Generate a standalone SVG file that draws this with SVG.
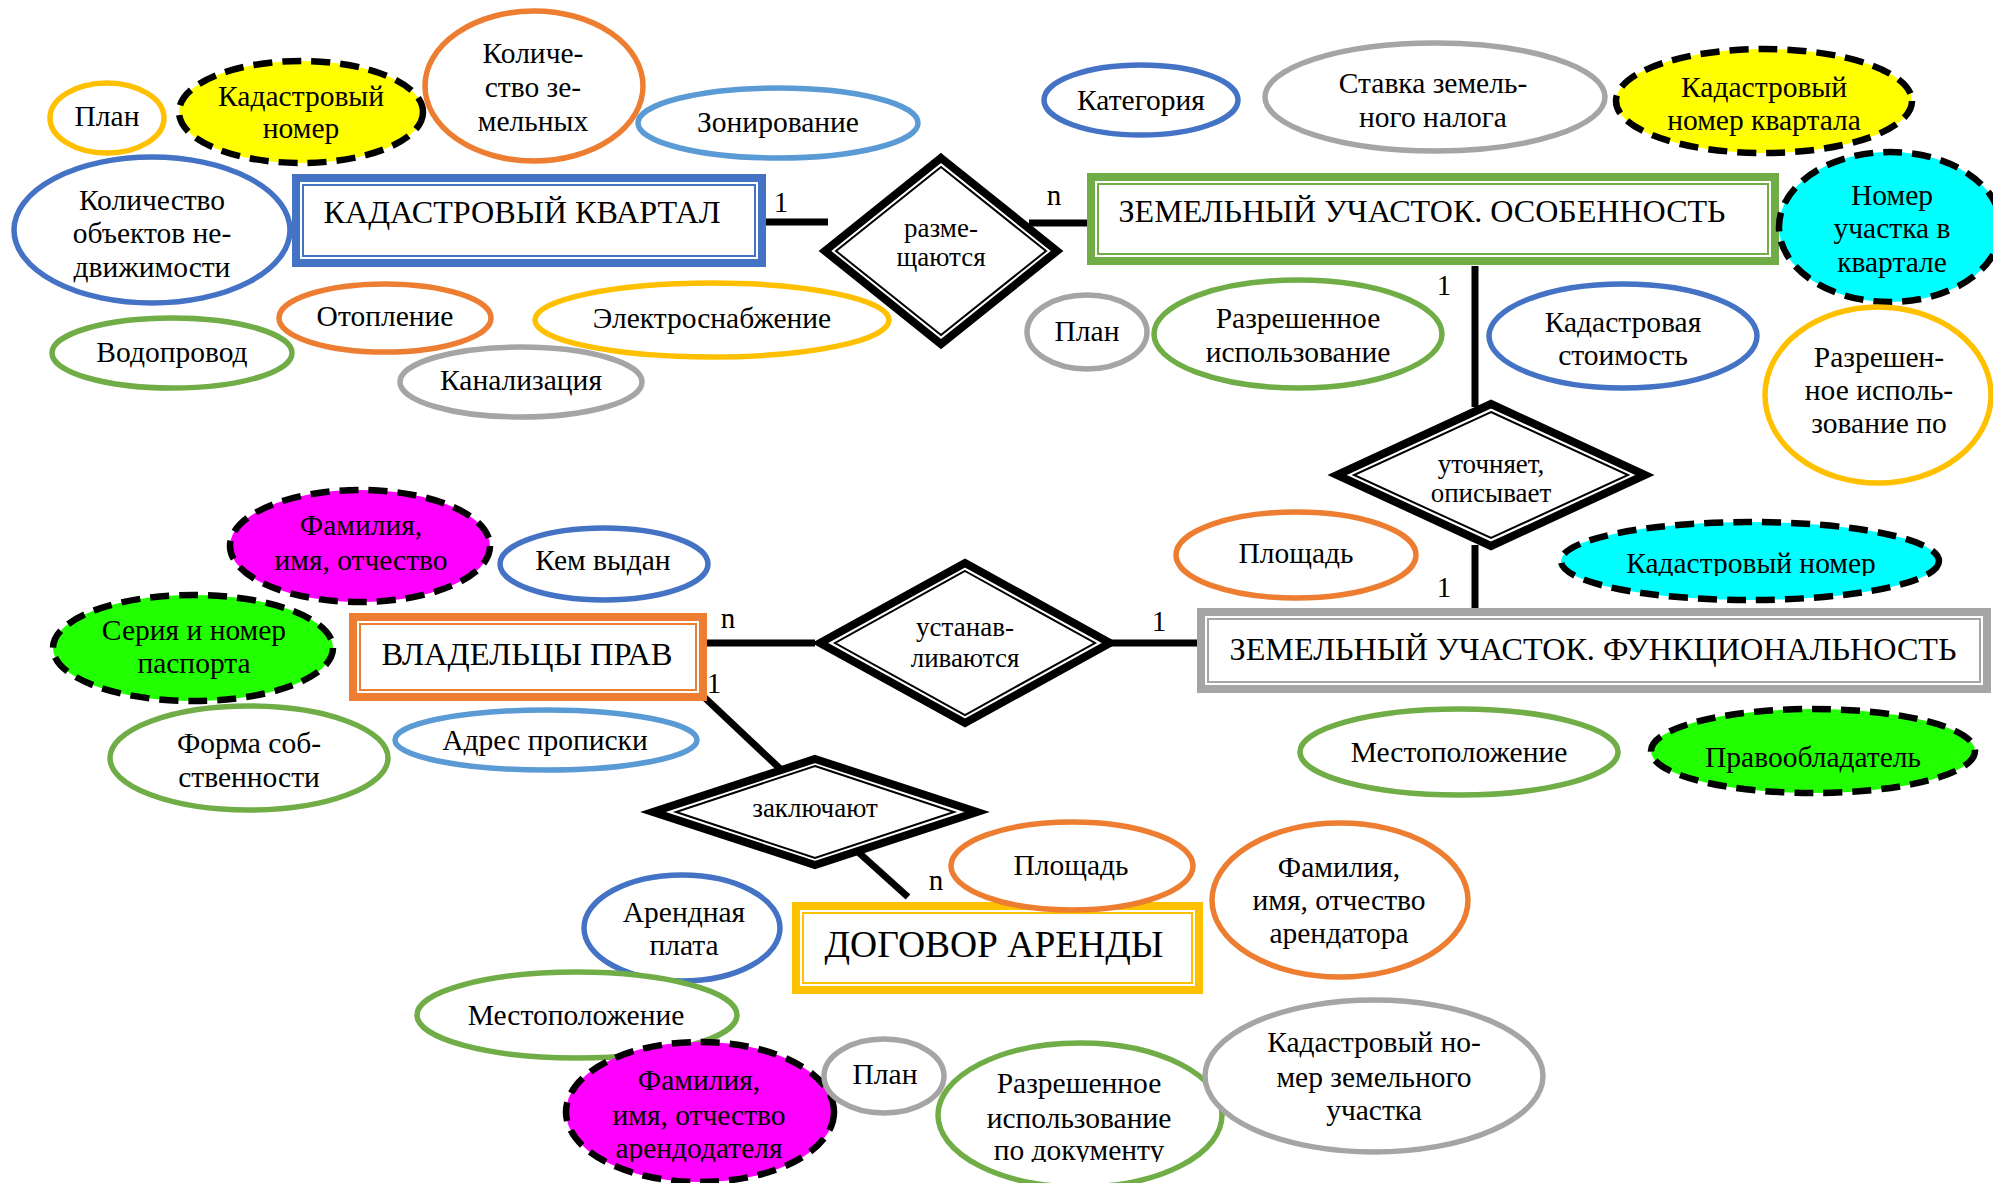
<svg xmlns="http://www.w3.org/2000/svg" width="1993" height="1183" viewBox="0 0 1993 1183">
<style>
text{font-family:"Liberation Serif","Times New Roman",serif;font-size:29.5px;fill:#000;text-anchor:middle}
.ent{font-size:32px}
.rel{font-size:27px}
.card{font-size:29px}
.e{fill:#fff;stroke-width:5.5}
.d{stroke:#000;stroke-width:6.5;stroke-dasharray:19 10}
.blue{stroke:#4472C4}.orange{stroke:#ED7D31}.gray{stroke:#A5A5A5}.gold{stroke:#FFC000}.green{stroke:#70AD47}.lblue{stroke:#5B9BD5}
.yf{fill:#FFFF00}.cf{fill:#00FFFF}.mf{fill:#FF00FF}.gf{fill:#22FF00}
.bo{fill:#fff;stroke-width:8}
.bi{fill:none;stroke-width:2}
.dia{fill:#fff;stroke:#000;stroke-width:8;stroke-linejoin:miter;stroke-miterlimit:10}
.dii{fill:none;stroke:#000;stroke-width:2}
.ln{stroke:#000;stroke-width:7;fill:none}
</style>
<defs>
<clipPath id="c1"><rect x="1500" y="500" width="480" height="76"/></clipPath>
<clipPath id="c2"><rect x="560" y="1030" width="280" height="132"/></clipPath>
<clipPath id="c3"><rect x="930" y="1030" width="300" height="132"/></clipPath>
</defs>
<rect width="1993" height="1183" fill="#fff"/>

<g id="connectors">
<line class="ln" x1="766" y1="222" x2="828" y2="222"/>
<line class="ln" x1="1029" y1="223" x2="1088" y2="223"/>
<line class="ln" x1="1475" y1="266" x2="1475" y2="407"/>
<line class="ln" x1="1475" y1="545" x2="1475" y2="609"/>
<line class="ln" x1="706" y1="643" x2="815" y2="643"/>
<line class="ln" x1="1062" y1="643" x2="1198" y2="643"/>
<line class="ln" x1="704" y1="697" x2="792" y2="780"/>
<line class="ln" x1="837" y1="833" x2="908" y2="897"/>
<text class="card" x="781" y="212">1</text>
<text class="card" x="1054" y="205">n</text>
<text class="card" x="1444" y="295">1</text>
<text class="card" x="1444" y="597">1</text>
<text class="card" x="728" y="628">n</text>
<text class="card" x="714" y="693">1</text>
<text class="card" x="1159" y="631">1</text>
<text class="card" x="936" y="890">n</text>
</g>

<!-- entities -->
<g id="kadastrovyi-kvartal">
<rect class="bo blue" x="296" y="178" width="466" height="85"/>
<rect class="bi blue" x="303" y="185" width="452" height="71"/>
<text class="ent" x="522" y="223" textLength="397" lengthAdjust="spacingAndGlyphs">КАДАСТРОВЫЙ КВАРТАЛ</text>
</g>
<g id="zu-osobennost">
<rect class="bo green" x="1091" y="177" width="684" height="84"/>
<rect class="bi green" x="1098" y="184" width="670" height="70"/>
<text class="ent" x="1422" y="222" textLength="607" lengthAdjust="spacingAndGlyphs">ЗЕМЕЛЬНЫЙ УЧАСТОК. ОСОБЕННОСТЬ</text>
</g>
<g id="vladeltsy-prav">
<rect class="bo orange" x="353" y="617" width="350" height="80"/>
<rect class="bi orange" x="360" y="624" width="336" height="66"/>
<text class="ent" x="527" y="665" textLength="291" lengthAdjust="spacingAndGlyphs">ВЛАДЕЛЬЦЫ ПРАВ</text>
</g>
<g id="zu-funktsionalnost">
<rect class="bo gray" x="1201" y="612" width="786" height="77"/>
<rect class="bi gray" x="1208" y="619" width="772" height="63"/>
<text class="ent" x="1593" y="660" textLength="727" lengthAdjust="spacingAndGlyphs">ЗЕМЕЛЬНЫЙ УЧАСТОК. ФУНКЦИОНАЛЬНОСТЬ</text>
</g>
<g id="dogovor-arendy">
<rect class="bo gold" x="796" y="906" width="403" height="84"/>
<rect class="bi gold" x="803" y="913" width="389" height="70"/>
<text class="ent" x="994" y="957" style="font-size:38px" textLength="339" lengthAdjust="spacingAndGlyphs">ДОГОВОР АРЕНДЫ</text>
</g>

<!-- relationships -->
<g id="razmeshchayutsya">
<polygon class="dia" points="941,158 1057,251 941,344 825,251"/>
<polygon class="dii" points="941,167 1046,251 941,335 836,251"/>
<text class="rel" x="941" y="237">разме-</text>
<text class="rel" x="941" y="266">щаются</text>
</g>
<g id="utochnyaet">
<polygon class="dia" points="1491,404 1645,475 1491,546 1337,475"/>
<polygon class="dii" points="1491,412 1628,475 1491,538 1354,475"/>
<text class="rel" x="1491" y="473">уточняет,</text>
<text class="rel" x="1491" y="502">описывает</text>
</g>
<g id="ustanavlivayutsya">
<polygon class="dia" points="965,563 1110,643 965,723 820,643"/>
<polygon class="dii" points="965,571 1095,643 965,715 835,643"/>
<text class="rel" x="965" y="636">устанав-</text>
<text class="rel" x="965" y="667">ливаются</text>
</g>
<g id="zaklyuchayut">
<polygon class="dia" points="815,759 977,812 815,865 653,812"/>
<polygon class="dii" points="815,766 954,812 815,858 676,812"/>
<text class="rel" x="815" y="817">заключают</text>
</g>

<!-- attributes: кадастровый квартал -->
<g id="a-plan1"><ellipse class="e gold" cx="107" cy="118" rx="57" ry="35"/><text x="107" y="126">План</text></g>
<g id="a-kadnomer1"><ellipse class="yf d" cx="301" cy="112" rx="122" ry="51"/><text x="301" y="106">Кадастровый</text><text x="301" y="138">номер</text></g>
<g id="a-kolzem"><ellipse class="e orange" cx="534" cy="86" rx="109" ry="75"/><text x="533" y="63">Количе-</text><text x="533" y="97">ство зе-</text><text x="533" y="131">мельных</text></g>
<g id="a-zonirovanie"><ellipse class="e lblue" cx="778" cy="123" rx="140" ry="35"/><text x="778" y="132">Зонирование</text></g>
<g id="a-kolobj"><ellipse class="e blue" cx="152" cy="230" rx="138" ry="73"/><text x="152" y="210">Количество</text><text x="152" y="243">объектов не-</text><text x="152" y="277">движимости</text></g>
<g id="a-otoplenie"><ellipse class="e orange" cx="385" cy="318" rx="106" ry="34"/><text x="385" y="326">Отопление</text></g>
<g id="a-vodoprovod"><ellipse class="e green" cx="172" cy="353" rx="120" ry="35"/><text x="172" y="362">Водопровод</text></g>
<g id="a-kanalizatsiya"><ellipse class="e gray" cx="521" cy="382" rx="121" ry="35"/><text x="521" y="390">Канализация</text></g>
<g id="a-elektro"><ellipse class="e gold" cx="712" cy="320" rx="177" ry="37"/><text x="712" y="328">Электроснабжение</text></g>

<!-- attributes: ЗУ особенность -->
<g id="a-kategoriya"><ellipse class="e blue" cx="1141" cy="100" rx="97" ry="35"/><text x="1141" y="110">Категория</text></g>
<g id="a-stavka"><ellipse class="e gray" cx="1435" cy="97" rx="170" ry="54"/><text x="1433" y="93">Ставка земель-</text><text x="1433" y="127">ного налога</text></g>
<g id="a-kadnomkv"><ellipse class="yf d" cx="1764" cy="101" rx="148" ry="52"/><text x="1764" y="97">Кадастровый</text><text x="1764" y="130">номер квартала</text></g>
<g id="a-nomeruch"><ellipse class="cf d" cx="1890" cy="227" rx="111" ry="75"/><text x="1892" y="205">Номер</text><text x="1892" y="238">участка в</text><text x="1892" y="272">квартале</text></g>
<g id="a-plan2"><ellipse class="e gray" cx="1087" cy="332" rx="60" ry="37"/><text x="1087" y="341">План</text></g>
<g id="a-razresh1"><ellipse class="e green" cx="1298" cy="334" rx="144" ry="54"/><text x="1298" y="328">Разрешенное</text><text x="1298" y="362">использование</text></g>
<g id="a-kadstoim"><ellipse class="e blue" cx="1623" cy="336" rx="134" ry="52"/><text x="1623" y="332">Кадастровая</text><text x="1623" y="365">стоимость</text></g>
<g id="a-razreshpo"><ellipse class="e gold" cx="1878" cy="395" rx="113" ry="88"/><text x="1879" y="367">Разрешен-</text><text x="1879" y="400">ное исполь-</text><text x="1879" y="433">зование по</text></g>

<!-- attributes: ЗУ функциональность -->
<g id="a-ploshchad1"><ellipse class="e orange" cx="1296" cy="555" rx="120" ry="43"/><text x="1296" y="563">Площадь</text></g>
<g id="a-kadnomer2"><ellipse class="cf d" cx="1750" cy="561" rx="189" ry="39"/><text x="1751" y="573" clip-path="url(#c1)">Кадастровый номер</text></g>
<g id="a-mesto1"><ellipse class="e green" cx="1459" cy="752" rx="159" ry="43"/><text x="1459" y="762">Местоположение</text></g>
<g id="a-pravoobl"><ellipse class="gf d" cx="1813" cy="751" rx="162" ry="42"/><text x="1813" y="767">Правообладатель</text></g>

<!-- attributes: владельцы прав -->
<g id="a-fio1"><ellipse class="mf d" cx="360" cy="546" rx="130" ry="56"/><text x="361" y="535">Фамилия,</text><text x="361" y="570">имя, отчество</text></g>
<g id="a-kemvydan"><ellipse class="e blue" cx="604" cy="564" rx="104" ry="36"/><text x="603" y="570">Кем выдан</text></g>
<g id="a-pasport"><ellipse class="gf d" cx="193" cy="648" rx="140" ry="53"/><text x="194" y="640">Серия и номер</text><text x="194" y="673">паспорта</text></g>
<g id="a-forma"><ellipse class="e green" cx="249" cy="758" rx="139" ry="52"/><text x="249" y="753">Форма соб-</text><text x="249" y="787">ственности</text></g>
<g id="a-adres"><ellipse class="e lblue" cx="546" cy="740" rx="151" ry="30"/><text x="545" y="750">Адрес прописки</text></g>

<!-- attributes: договор аренды -->
<g id="a-ploshchad2"><ellipse class="e orange" cx="1072" cy="866" rx="121" ry="44"/><text x="1071" y="875">Площадь</text></g>
<g id="a-fioarendatora"><ellipse class="e orange" cx="1340" cy="900" rx="128" ry="77"/><text x="1339" y="877">Фамилия,</text><text x="1339" y="910">имя, отчество</text><text x="1339" y="943">арендатора</text></g>
<g id="a-arendplata"><ellipse class="e blue" cx="682" cy="928" rx="98" ry="53"/><text x="684" y="922">Арендная</text><text x="684" y="955">плата</text></g>
<g id="a-mesto2"><ellipse class="e green" cx="577" cy="1015" rx="160" ry="43"/><text x="576" y="1025">Местоположение</text></g>
<g id="a-fioarendodatelya"><ellipse class="mf d" cx="700" cy="1112" rx="134" ry="70"/><text x="699" y="1090">Фамилия,</text><text x="699" y="1125">имя, отчество</text><text x="699" y="1158" clip-path="url(#c2)">арендодателя</text></g>
<g id="a-plan3"><ellipse class="e gray" cx="884" cy="1076" rx="60" ry="37"/><text x="885" y="1084">План</text></g>
<g id="a-razreshdok"><ellipse class="e green" cx="1080" cy="1115" rx="142" ry="72"/><text x="1079" y="1093">Разрешенное</text><text x="1079" y="1128">использование</text><text x="1079" y="1160" clip-path="url(#c3)">по документу</text></g>
<g id="a-kadnomzu"><ellipse class="e gray" cx="1374" cy="1076" rx="169" ry="76"/><text x="1374" y="1052">Кадастровый но-</text><text x="1374" y="1087">мер земельного</text><text x="1374" y="1120">участка</text></g>
</svg>
